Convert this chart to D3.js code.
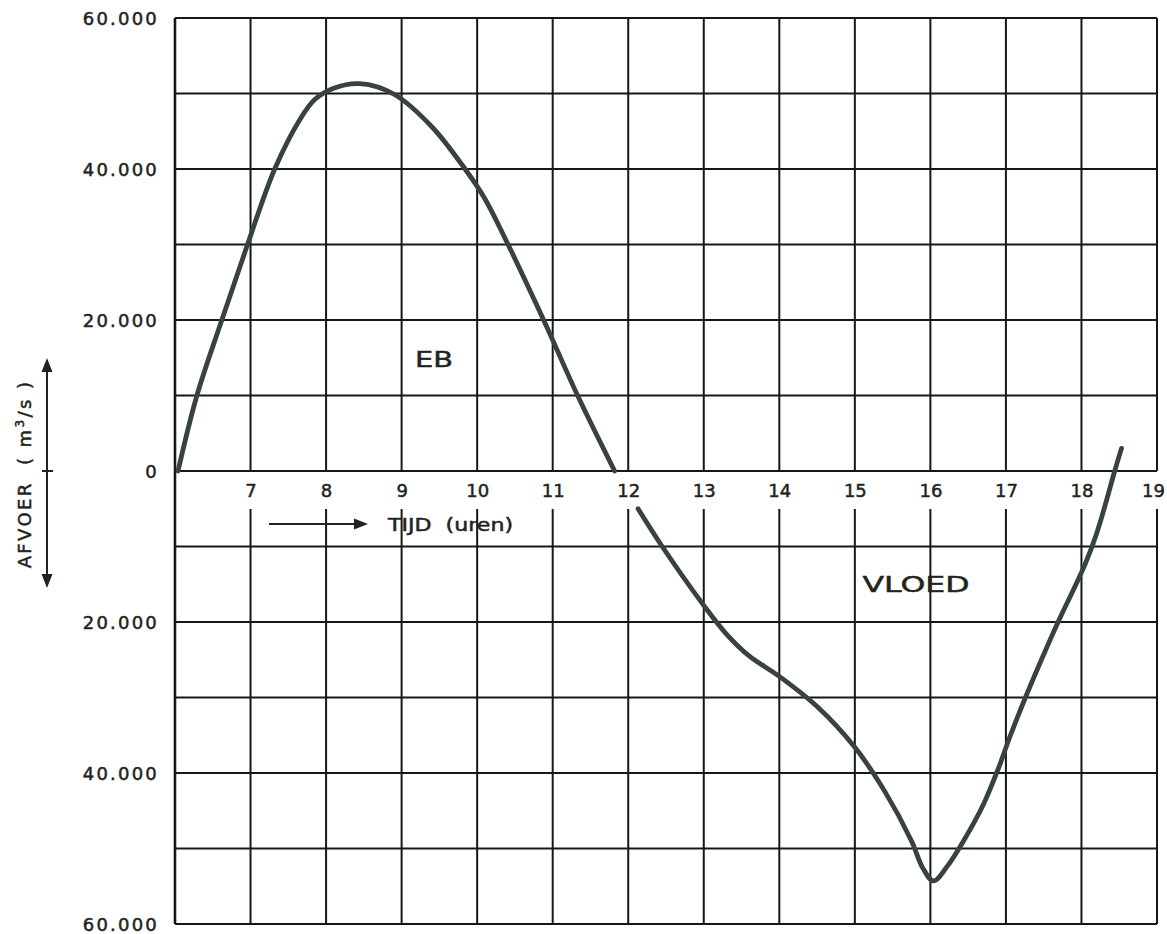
<!DOCTYPE html>
<html>
<head>
<meta charset="utf-8">
<script src="https://cdn.jsdelivr.net/npm/d3@7"></script>
<style>
  html, body { margin: 0; padding: 0; background: #ffffff; }
  svg { display: block; }
  text { font-family: "DejaVu Sans", sans-serif; fill: #1f2420; stroke: #1f2420; stroke-width: 0.5px; }
</style>
</head>
<body>
<svg id="chart" width="1167" height="934"></svg>
<script>
// Tijd in uren
const hourTicks = [7, 8, 9, 10, 11, 12, 13, 14, 15, 16, 17, 18, 19];
// Afvoer in m3/s, eb positief en vloed negatief
const flowTicks = [60000, 40000, 20000, 0, -20000, -40000, -60000];
const gridFlows = [60000, 50000, 40000, 30000, 20000, 10000, 0, -10000, -20000, -30000, -40000, -50000, -60000];

// Eb-periode
const ebHours = [6.04, 6.29, 6.62, 6.96, 7.32, 7.65, 7.85, 8.10, 8.45, 8.90, 9.40, 9.84, 10.10, 10.38, 10.88, 11.33, 11.82];
const ebFlow  = [0, 10000, 20000, 30000, 40000, 46500, 49200, 50700, 51300, 49900, 45600, 40000, 36100, 30600, 20000, 10000, 0];

// Vloed-periode
const vloedHours = [12.13, 12.45, 13.00, 13.30, 13.60, 14.00, 14.50, 15.00, 15.40, 15.75, 15.90, 16.04, 16.22, 16.45, 16.70, 16.90, 17.06, 17.25, 17.47, 17.70, 17.90, 18.05, 18.20, 18.32, 18.44, 18.53];
const vloedFlow  = [-5000, -10000, -17800, -21600, -24500, -27200, -31200, -36600, -42500, -49000, -52600, -54300, -52400, -48800, -44200, -39400, -35000, -30200, -25000, -19800, -15600, -12300, -8300, -4300, 0, 3000];

const labels = [
  { text: "EB", h: 9.43, v: 14800, len: 38 },
  { text: "VLOED", h: 15.81, v: -15000, len: 107 }
];

const W = 1167;
const svg = d3.select("#chart");
const x = d3.scaleLinear().domain([6, 19]).range([175, 1157]);
const y = d3.scaleLinear().domain([-60000, 60000]).range([924, 18]);
const labelGap = 38;   // open band under the zero line for the hour labels

const grid = svg.append("g").attr("stroke", "#161816").attr("stroke-width", 2).attr("fill", "none");

// horizontal grid lines
grid.selectAll("line.h").data(gridFlows).join("line")
  .attr("class", "h")
  .attr("x1", x(6)).attr("x2", x(19))
  .attr("y1", d => y(d)).attr("y2", d => y(d));

// vertical grid lines, interrupted under the zero line
grid.selectAll("line.vt").data(hourTicks).join("line")
  .attr("class", "vt")
  .attr("x1", d => x(d)).attr("x2", d => x(d))
  .attr("y1", y(60000)).attr("y2", y(0));
grid.selectAll("line.vb").data(hourTicks).join("line")
  .attr("class", "vb")
  .attr("x1", d => x(d)).attr("x2", d => x(d))
  .attr("y1", y(0) + labelGap).attr("y2", y(-60000));

// left axis line
grid.append("line")
  .attr("x1", x(6)).attr("x2", x(6))
  .attr("y1", y(60000)).attr("y2", y(-60000))
  .attr("stroke-width", 2.6);

// y axis labels
const fmt = v => v === 0 ? "0" : d3.format(",")(Math.abs(v)).replace(/,/g, ".");
const yAxis = d3.axisLeft(y).tickValues(flowTicks).tickFormat(fmt).tickSize(0).tickPadding(0);
const gy = svg.append("g").attr("transform", "translate(159,0)").call(yAxis);
gy.select(".domain").remove();
gy.selectAll("text")
  .style("font-family", "DejaVu Sans, sans-serif")
  .style("font-size", "18px")
  .style("letter-spacing", "2.2px")
  .attr("fill", "#1f2420")
  .attr("dy", "0.35em");

// x axis labels
const xAxis = d3.axisBottom(x).tickValues(hourTicks).tickFormat(d3.format("d")).tickSize(0).tickPadding(0);
const gx = svg.append("g").attr("transform", `translate(0,${y(0)})`).call(xAxis);
gx.select(".domain").remove();
gx.selectAll("text")
  .style("font-family", "DejaVu Sans, sans-serif")
  .style("font-size", "18px")
  .attr("fill", "#1f2420")
  .attr("y", 26)
  .attr("dy", 0);
// keep the last hour label inside the page
gx.selectAll(".tick").each(function () {
  const t = d3.select(this);
  const tx = +t.attr("transform").match(/translate\(([-\d.]+)/)[1];
  const bb = this.querySelector("text").getBBox();
  const over = tx + bb.x + bb.width - (W - 2);
  if (over > 0) t.select("text").attr("x", -over);
});

// time axis caption with arrow
const cap = svg.append("g");
cap.append("line")
  .attr("x1", 269).attr("x2", 358)
  .attr("y1", y(0) + 53).attr("y2", y(0) + 53)
  .attr("stroke", "#1f2420").attr("stroke-width", 2);
cap.append("path")
  .attr("d", `M${368},${y(0) + 53} L${354},${y(0) + 47.5} L${354},${y(0) + 58.5} Z`)
  .attr("fill", "#1f2420");
cap.append("text")
  .attr("x", 388).attr("y", y(0) + 60)
  .attr("textLength", 125).attr("lengthAdjust", "spacingAndGlyphs")
  .style("font-size", "18px")
  .style("white-space", "pre")
  .text("TIJD  (uren)");

// vertical axis caption with double arrow
const ycap = svg.append("g");
ycap.append("line")
  .attr("x1", 47).attr("x2", 47)
  .attr("y1", 368).attr("y2", 578)
  .attr("stroke", "#1f2420").attr("stroke-width", 2);
ycap.append("path").attr("d", "M47,358 L41.5,372 L52.5,372 Z").attr("fill", "#1f2420");
ycap.append("path").attr("d", "M47,588 L41.5,574 L52.5,574 Z").attr("fill", "#1f2420");
ycap.append("line")
  .attr("x1", 42).attr("x2", 53)
  .attr("y1", y(0)).attr("y2", y(0))
  .attr("stroke", "#1f2420").attr("stroke-width", 2);
const yt = ycap.append("text")
  .attr("transform", "translate(31,474) rotate(-90)")
  .attr("text-anchor", "middle")
  .style("font-size", "18px")
  .style("letter-spacing", "2.4px")
  .style("white-space", "pre");
yt.append("tspan").text("AFVOER  ( m");
yt.append("tspan").attr("dy", -7).style("font-size", "12px").text("3");
yt.append("tspan").attr("dy", 7).text("/s )");

// discharge curve
const line = d3.line()
  .x(d => x(d[0]))
  .y(d => y(d[1]))
  .curve(d3.curveCatmullRom.alpha(0.5));

const series = [d3.zip(ebHours, ebFlow), d3.zip(vloedHours, vloedFlow)];
svg.append("g").selectAll("path").data(series).join("path")
  .attr("d", line)
  .attr("fill", "none")
  .attr("stroke", "#38433d")
  .attr("stroke-width", 4.8)
  .attr("stroke-linecap", "round")
  .attr("stroke-linejoin", "round");

// period labels
svg.append("g").selectAll("text").data(labels).join("text")
  .attr("x", d => x(d.h) - d.len / 2)
  .attr("y", d => y(d.v) + 8)
  .attr("textLength", d => d.len)
  .attr("lengthAdjust", "spacingAndGlyphs")
  .style("font-size", "22px")
  .text(d => d.text);
</script>
</body>
</html>
